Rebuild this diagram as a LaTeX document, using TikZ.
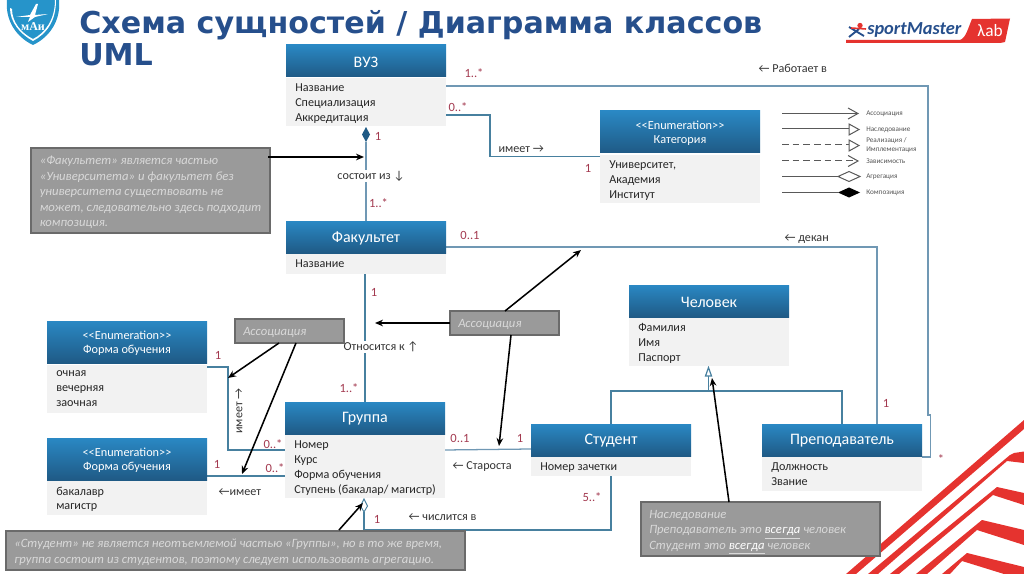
\documentclass[tikz,border=0pt]{standalone}
\usepackage{fontspec}
\setmainfont{Carlito}
\newfontfamily\titlefont{DejaVu Sans}
\newfontfamily\maifont{Liberation Serif}
\usetikzlibrary{arrows.meta,calc}
\definecolor{hdtop}{HTML}{2A88C4}
\definecolor{hdbot}{HTML}{1F5A85}
\definecolor{bodyc}{HTML}{F2F2F2}
\definecolor{linec}{HTML}{7098B4}
\definecolor{linea}{HTML}{47809F}
\definecolor{mult}{HTML}{A33A50}
\definecolor{titlec}{HTML}{264F8C}
\definecolor{noteb}{HTML}{9A9A9A}
\definecolor{noted}{HTML}{6A6A6A}
\definecolor{notet}{HTML}{D9D9D9}
\definecolor{redm}{HTML}{E5332F}
\definecolor{darkd}{HTML}{1F5A85}
\definecolor{legt}{HTML}{555555}
\tikzset{
 hdr/.style={anchor=north west,inner sep=0,outer sep=0,top color=hdtop,bottom color=hdbot,draw=none},
 hdrtext/.style={inner sep=0,text=white,align=center,font=\fontsize{12}{14}\selectfont},
 bodyb/.style={anchor=north west,inner sep=0,outer sep=0,fill=bodyc,draw=none},
 attrs/.style={anchor=north west,align=left,inner sep=0,font=\fontsize{9.1}{11.2}\selectfont,text=black!85},
 conn/.style={draw=linec,line width=0.95pt},
 conna/.style={draw=linea,line width=0.8pt},
 multl/.style={text=mult,inner sep=0,font=\fontsize{9.4}{10}\selectfont},
 lbl/.style={text=black!80,inner sep=1pt,font=\fontsize{9.1}{10}\selectfont},
 notebox/.style={anchor=north west,inner sep=0,outer sep=0,fill=noteb,draw=noted,line width=0.9pt},
 notetext/.style={anchor=north west,align=left,inner sep=0,text=notet,font=\fontsize{9.5}{11.6}\selectfont\itshape},
 callout/.style={draw=black,line width=1.15pt,-{Stealth[length=6pt,width=5pt]}},
 leg/.style={draw=black!65,line width=0.75pt},
 legtext/.style={anchor=west,inner sep=0,text=legt,align=left,font=\fontsize{5.4}{6.4}\selectfont},
 stripe/.style={fill=redm,draw=none},
}
\newcommand{\umlbox}[8]{% name x hdrtop hdrH bodyTop bodyH title attrs
 \node[hdr,minimum width=160*0.75pt,minimum height=#4*0.75pt] (#1h) at (#2,#3) {};
 \node[hdrtext] (#1t) at ($(#1h.center)+(0,1)$) {#7};
 \node[bodyb,minimum width=160*0.75pt,minimum height=#6*0.75pt] (#1b) at (#2,#5) {};
 \node[attrs] (#1a) at ($(#2,#5)+(9,5.5)$) {#8};
}
\newcommand{\enumhead}[1]{\fontsize{9.2}{11.2}\selectfont<{}<Enumeration>{}>\\[-3.4pt]\fontsize{9.2}{11.2}\selectfont #1}
\begin{document}
\begin{tikzpicture}[x=0.75pt,y=-0.75pt]
\useasboundingbox (0,0) rectangle (1024,574);
% background stripes
\begin{scope}
\clip (0,0) rectangle (1024,574);
\fill[stripe] (1024,420) -- (1024,429) -- (856,574) -- (846,574) -- cycle;
\fill[stripe] (868,574) -- (1010,455) -- (1014,453) -- (1024,451.5) -- (1024,463) -- (1007,461) -- (878,574) -- cycle;
\fill[stripe] (890,574) -- (997,487) -- (1024,493) -- (1024,505) -- (993,495) -- (899,574) -- cycle;
\fill[stripe] (916,574) -- (982,520) -- (1024,530) -- (1024,545) -- (977,530) -- (927,574) -- cycle;
\fill[stripe] (942,574) -- (967,553) -- (1024,567) -- (1024,574) -- (1004,574) -- (962,561) -- (950,574) -- cycle;
\end{scope}
% title
\node[anchor=north west,inner sep=0,align=left,text=titlec,font=\titlefont\bfseries\fontsize{22.6}{24}\selectfont] (title) at (79,10) {Схема сущностей / Диаграмма классов\\UML};
% logo MAI
\fill[hdtop!90!cyan] (7,0) -- (59,0) .. controls (61,20) and (50,37) .. (33,45) .. controls (16,37) and (5,20) .. (7,0) -- cycle;
\fill[white] (10,8) .. controls (10,22) and (20,34) .. (33,41) .. controls (46,34) and (56,22) .. (56,0) -- (55,0) .. controls (55,20) and (45,33) .. (33,39) .. controls (21,33) and (12,22) .. (12,9) -- cycle;
\fill[white] (16,17) -- (30,15) -- (36,4) -- (38,4) -- (35,15) -- (48,14) -- (35,17) -- (28,22) -- (30,17) -- cycle;
\node[inner sep=0,text=white,font=\maifont\fontsize{9}{9}\selectfont\bfseries] (mai) at (33,27) {мАи};
% logo sportmaster
\fill[redm] (846,40) -- (960,40) .. controls (966,38) and (968,28) .. (972,19) -- (1010,18.5) -- (1005,42) -- (1000,43) -- (846,43) -- cycle;
\node[inner sep=0,anchor=west,text=titlec,font=\fontsize{13.8}{14}\selectfont\bfseries\itshape] (sm) at (867,29.5) {sportMaster};
\draw[titlec,line width=1.4pt] (849,27) -- (864,36);
\draw[titlec,line width=1.4pt] (849,37) -- (859,29);
\draw[redm,line width=1.2pt] (851,28) -- (866,29);
\fill[redm] (860,25.5) circle (2pt);
\node[inner sep=0,text=white,font=\fontsize{13}{13}\selectfont] (lab) at (990,31) {λab};
% connectors
\draw[conn] (445,86) coordinate (vuzA) -- (928,86) -- (928,415) -- (930.5,415) -- (930.5,457) -- (922,457) coordinate (prepA);
\draw[conna] (445,115) coordinate (vuzB) -- (490,115) -- (490,156.5) -- (600,156.5) coordinate (katA);
\draw[conn] (445,247) coordinate (fakA) -- (877,247) -- (877,424) coordinate (prepB);
\draw[conn] (366,142) -- (366,221);
\draw[conna] (365,273) -- (365,402);
\draw[conna] (207,367) -- (228,367) -- (228,450) -- (285,450);
\draw[conna] (207,476) -- (285,476);
\draw[conn] (444,450) -- (531,449);
\draw[conna] (364,512) -- (364,530) -- (611,530) -- (611,476);
\draw[conna] (708.5,376) -- (708.5,391);
\draw[conna] (611,424) -- (611,391) -- (842,391) -- (842,424);
% diamonds and triangle
\fill[darkd] (366,127) -- (370,134.5) -- (366,142) -- (362,134.5) -- cycle;
\draw[linea,fill=white,line width=0.7pt] (364,499) -- (367.5,506) -- (364,512) -- (360.5,506) -- cycle;
\draw[linea,fill=white,line width=0.9pt] (708.5,367.5) -- (711.5,376) -- (705.5,376) -- cycle;
% uml boxes
\umlbox{vuz}{286}{45}{32}{78}{48}{ВУЗ}{Название\\Специализация\\Аккредитация}
\umlbox{fak}{286}{221}{32}{254}{19.5}{Факультет}{Название}
\umlbox{kat}{600}{111}{42}{155}{47.5}{\enumhead{Категория}}{Университет,\\Академия\\Институт}
\umlbox{chel}{629}{285}{32}{318}{48}{Человек}{Фамилия\\Имя\\Паспорт}
\umlbox{stud}{531}{424}{32}{457}{18.5}{Студент}{Номер зачетки}
\umlbox{prep}{762}{424}{32}{457}{33.5}{Преподаватель}{Должность\\Звание}
\umlbox{grp}{285}{402}{32}{435}{63}{Группа}{Номер\\Курс\\Форма обучения\\Ступень (бакалар/ магистр)}
\umlbox{enA}{47}{321}{42}{365}{48}{\enumhead{Форма обучения}}{очная\\вечерняя\\заочная}
\umlbox{enB}{47}{438}{42}{481}{33.5}{\enumhead{Форма обучения}}{бакалавр\\магистр}
% connector labels
\node[lbl,fill=white] (l1) at (371,176) {состоит из ↓};
\node[lbl,fill=white] (l2) at (381,347) {Относится к ↑};
\node[lbl,anchor=west] (l3) at (497,149) {имеет →};
\node[lbl,anchor=west] (l4) at (757,68) {← Работает в};
\node[lbl,anchor=west] (l5) at (783,239) {← декан};
\node[lbl,anchor=west] (l6) at (451,467) {← Староста};
\node[lbl,anchor=west] (l7) at (407,517) {← числится в};
\node[lbl,anchor=west] (l8) at (217,492) {←имеет};
\node[lbl,rotate=90] (l9) at (239,411) {имеет →};
% multiplicities
\node[multl] at (474,73) {1..*};
\node[multl] at (458,107.5) {0..*};
\node[multl] at (378,136.5) {1};
\node[multl] at (378.5,203) {1..*};
\node[multl] at (588,168) {1};
\node[multl] at (470,235) {0..1};
\node[multl] at (374,292) {1};
\node[multl] at (218,355) {1};
\node[multl] at (349,388) {1..*};
\node[multl] at (273,444) {0..*};
\node[multl] at (275,468) {0..*};
\node[multl] at (217,464) {1};
\node[multl] at (460,438) {0..1};
\node[multl] at (520,438) {1};
\node[multl] at (377,519) {1};
\node[multl] at (592,497) {5..*};
\node[multl] at (886,403) {1};
\node[multl] at (941,459) {*};
% legend
\draw[leg] (782,113.5) -- (858,113.5);\draw[leg] (848,108) -- (858,113.5) -- (848,119);
\draw[leg] (782,129) -- (849,129);\draw[leg,fill=white] (849,124) -- (859,129.5) -- (849,135) -- cycle;
\draw[leg,dash pattern=on 5pt off 3pt] (782,145) -- (849,145);\draw[leg,fill=white] (849,140) -- (859,145.5) -- (849,151) -- cycle;
\draw[leg,dash pattern=on 5pt off 3pt] (782,161) -- (857,161);\draw[leg] (848,155.5) -- (858,161) -- (848,166.5);
\draw[leg] (782,176.5) -- (838,176.5);\draw[leg,fill=white] (838,176.5) -- (849,171.5) -- (860,176.5) -- (849,181.5) -- cycle;
\draw[leg] (782,192.5) -- (838,192.5);\fill[black] (838,192.5) -- (849,187.5) -- (860,192.5) -- (849,197.5) -- cycle;
\node[legtext] (t1) at (866,113.5) {Ассоциация};
\node[legtext] (t2) at (866,129.5) {Наследование};
\node[legtext] (t3) at (866,145) {Реализация /\\Имплементация};
\node[legtext] (t4) at (866,161) {Зависимость};
\node[legtext] (t5) at (866,176.5) {Агрегация};
\node[legtext] (t6) at (866,192.5) {Композиция};
% notes
\node[notebox,minimum width=239*0.75pt,minimum height=85*0.75pt] (n1) at (31,148) {};
\node[notetext] (n1t) at (39.5,156) {«Факультет» является частью\\«Университета» и факультет без\\университета существовать не\\может, следовательно здесь подходит\\композиция.};
\node[notebox,minimum width=109*0.75pt,minimum height=24*0.75pt] (n2) at (235,319) {};
\node[notetext] (n2t) at (243,327) {Ассоциация};
\node[notebox,minimum width=109*0.75pt,minimum height=24*0.75pt] (n3) at (450,311) {};
\node[notetext] (n3t) at (458,319) {Ассоциация};
\node[notebox,minimum width=459*0.75pt,minimum height=39*0.75pt] (n4) at (6,531) {};
\node[notetext] (n4t) at (14,539) {«Студент» не является неотъемлемой частью «Группы», но в то же время,\\группа состоит из студентов, поэтому следует использовать агрегацию.};
\node[notebox,minimum width=239*0.75pt,minimum height=54*0.75pt] (n5) at (641,502) {};
\node[notetext] (n5t) at (649,510) {Наследование\\Преподаватель это \underline{\textcolor{white}{всегда}} человек\\Студент это \underline{\textcolor{white}{всегда}} человек};
% callout arrows
\coordinate (a1) at (364,157);
\draw[callout] (268,157) -- (a1);
\coordinate (a2) at (228,378);
\draw[callout] (279,343) -- (a2);
\coordinate (a3) at (242,474);
\draw[callout] (296,343) -- (a3);
\coordinate (a4) at (375,323);
\draw[callout] (n3.west) -- (a4);
\coordinate (a5) at (581,250);
\draw[callout] (505,311) -- (a5);
\coordinate (a6) at (499,446);
\draw[callout] (511,335) -- (a6);
\coordinate (a7) at (363,503);
\draw[callout] (339,530) -- (a7);
\coordinate (a8) at (712,378);
\draw[callout] (729,502) -- (a8);
\end{tikzpicture}
\end{document}
